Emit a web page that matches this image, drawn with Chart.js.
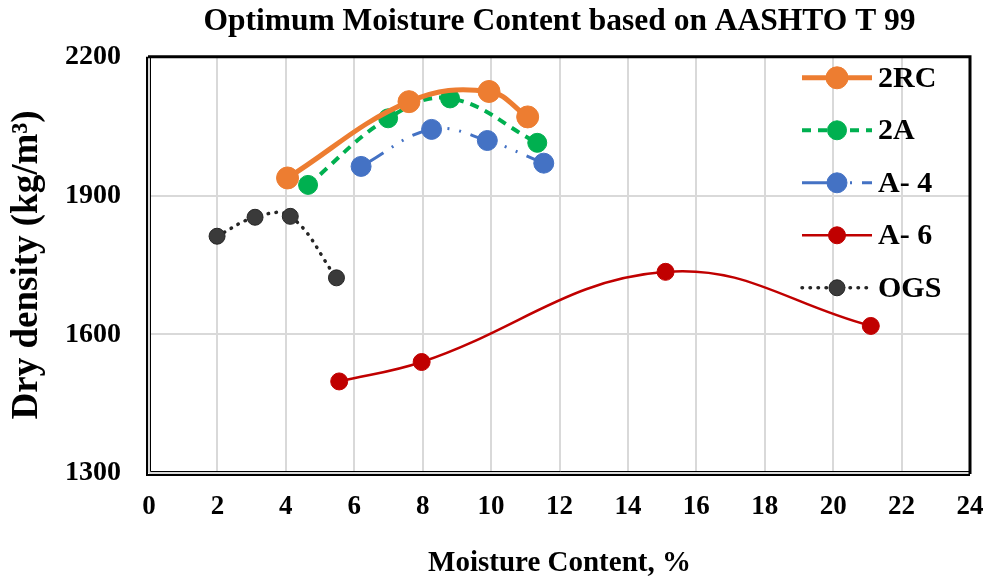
<!DOCTYPE html>
<html lang="en">
<head>
    <meta charset="UTF-8">
    <title>Optimum Moisture Content</title>
    <style>
        body {
            margin: 0;
            background-color: #fff;
        }
        .chart-box {
            width: 989px;
            height: 578px;
        }
    </style>
    <script src="https://cdn.jsdelivr.net/npm/chart.js"></script>
</head>
<body>
<div class="chart-box">
    <canvas id="omcChart"></canvas>
</div>

<script>
    // Datos (humedad %, densidad seca kg/m3)
    const humedad2RC = [4.05, 7.6, 9.94, 11.07];
    const densidad2RC = [1938, 2103, 2125, 2070];

    const humedad2A = [4.65, 6.99, 8.8, 11.35];
    const densidad2A = [1923, 2067, 2110, 2014];

    const humedadA4 = [6.2, 8.26, 9.89, 11.54];
    const densidadA4 = [1963, 2043, 2019, 1970];

    const humedadA6 = [5.56, 7.97, 15.1, 21.1];
    const densidadA6 = [1498, 1540, 1735, 1618];

    const humedadOGS = [1.99, 3.1, 4.13, 5.48];
    const densidadOGS = [1812, 1853, 1855, 1722];

    const seriesNombres = ['2RC', '2A', 'A- 4', 'A- 6', 'OGS'];

    const serif = '"Liberation Serif", "Times New Roman", serif';

    function puntos(xs, ys) {
        return xs.map((x, i) => ({ x: x, y: ys[i] }));
    }

    const datasets = [
        {
            label: seriesNombres[0],
            data: puntos(humedad2RC, densidad2RC),
            borderColor: '#ED7D31',
            backgroundColor: '#ED7D31',
            borderWidth: 5,
            pointRadius: 11,
            borderDash: []
        },
        {
            label: seriesNombres[1],
            data: puntos(humedad2A, densidad2A),
            borderColor: '#00B050',
            backgroundColor: '#00B050',
            borderWidth: 4,
            pointRadius: 9.5,
            borderDash: [9, 7]
        },
        {
            label: seriesNombres[2],
            data: puntos(humedadA4, densidadA4),
            borderColor: '#4472C4',
            backgroundColor: '#4472C4',
            borderWidth: 3,
            pointRadius: 10,
            borderDash: [26, 10, 2, 10, 2, 10]
        },
        {
            label: seriesNombres[3],
            data: puntos(humedadA6, densidadA6),
            borderColor: '#C00000',
            backgroundColor: '#C00000',
            borderWidth: 2.5,
            pointRadius: 8.5,
            borderDash: []
        },
        {
            label: seriesNombres[4],
            data: puntos(humedadOGS, densidadOGS),
            borderColor: '#262626',
            backgroundColor: '#3a3a3a',
            pointBorderColor: '#262626',
            borderWidth: 3.5,
            pointRadius: 8,
            borderDash: [0.5, 7.5],
            borderCapStyle: 'round'
        }
    ];

    datasets.forEach(ds => {
        ds.showLine = true;
        ds.tension = 0.4;
        ds.fill = false;
        ds.pointBorderWidth = 1;
        ds.pointHoverRadius = ds.pointRadius;
        if (!ds.pointBorderColor) ds.pointBorderColor = ds.borderColor;
    });

    // Marco del area del grafico (doble linea a la izquierda y abajo)
    const marcoPlugin = {
        id: 'marco',
        afterDatasetsDraw(chart) {
            const { ctx, chartArea: a } = chart;
            ctx.save();
            ctx.strokeStyle = '#000';
            ctx.lineWidth = 3;
            ctx.beginPath();
            ctx.moveTo(a.left - 1, a.top);
            ctx.lineTo(a.right, a.top);
            ctx.lineTo(a.right, a.bottom + 1);
            ctx.stroke();
            ctx.lineWidth = 2;
            ctx.beginPath();
            ctx.moveTo(a.left - 2, a.top);
            ctx.lineTo(a.left - 2, a.bottom + 2);
            ctx.lineTo(a.right, a.bottom + 2);
            ctx.stroke();
            ctx.lineWidth = 1;
            ctx.beginPath();
            ctx.moveTo(a.left + 1.5, a.top);
            ctx.lineTo(a.left + 1.5, a.bottom - 1.5);
            ctx.lineTo(a.right, a.bottom - 1.5);
            ctx.stroke();
            ctx.restore();
        }
    };

    // Leyenda con muestra de linea + marcador, como en Excel
    const leyendaPlugin = {
        id: 'leyenda',
        afterDatasetsDraw(chart) {
            const { ctx, chartArea: a } = chart;
            const x0 = a.right - 168;
            const x1 = a.right - 98;
            const xm = (x0 + x1) / 2;
            ctx.save();
            chart.data.datasets.forEach((ds, i) => {
                const y = a.top + 21 + i * 52.5;
                ctx.strokeStyle = ds.borderColor;
                ctx.lineWidth = ds.borderWidth;
                ctx.lineCap = ds.borderCapStyle || 'butt';
                ctx.setLineDash(ds.borderDash || []);
                ctx.beginPath();
                ctx.moveTo(x0, y);
                ctx.lineTo(x1, y);
                ctx.stroke();
                ctx.setLineDash([]);
                ctx.fillStyle = ds.backgroundColor;
                ctx.strokeStyle = ds.pointBorderColor;
                ctx.lineWidth = 1;
                ctx.beginPath();
                ctx.arc(xm, y, ds.pointRadius, 0, Math.PI * 2);
                ctx.fill();
                ctx.stroke();
                ctx.fillStyle = '#000';
                ctx.font = 'bold 30px ' + serif;
                ctx.textAlign = 'left';
                ctx.textBaseline = 'middle';
                ctx.fillText(ds.label, x1 + 6, y + 1);
            });
            ctx.restore();
        }
    };

    const config = {
        type: 'scatter',
        data: { datasets: datasets },
        options: {
            responsive: false,
            animation: false,
            layout: {
                padding: { top: 0, right: 19, bottom: 0, left: 0 }
            },
            plugins: {
                legend: { display: false },
                tooltip: { enabled: false },
                title: {
                    display: true,
                    fullSize: false,
                    text: 'Optimum Moisture Content based on AASHTO T 99',
                    color: '#000',
                    font: { family: serif, size: 31.5, weight: 'bold' },
                    padding: { top: 3, bottom: 16 }
                }
            },
            scales: {
                x: {
                    type: 'linear',
                    min: 0,
                    max: 24,
                    ticks: {
                        stepSize: 2,
                        color: '#000',
                        padding: 18,
                        font: { family: serif, size: 27, weight: 'bold' }
                    },
                    grid: { color: '#d9d9d9', lineWidth: 2, drawTicks: false },
                    border: { display: false },
                    title: {
                        display: true,
                        text: 'Moisture Content, %',
                        color: '#000',
                        font: { family: serif, size: 29, weight: 'bold', lineHeight: 1 },
                        padding: { top: 0, bottom: 0 }
                    },
                    afterFit(scale) {
                        scale.height = 105;
                        scale.paddingRight = 0;
                    }
                },
                y: {
                    type: 'linear',
                    min: 1300,
                    max: 2200,
                    ticks: {
                        stepSize: 300,
                        color: '#000',
                        padding: 28,
                        font: { family: serif, size: 28, weight: 'bold' },
                        callback: value => String(value)
                    },
                    grid: { color: '#d9d9d9', lineWidth: 2, drawTicks: false },
                    border: { display: false },
                    title: {
                        display: true,
                        text: 'Dry density (kg/m³)',
                        color: '#000',
                        font: { family: serif, size: 37, weight: 'bold' },
                        padding: { top: 5, bottom: 5 }
                    },
                    afterFit(scale) { scale.width = 149; }
                }
            }
        },
        plugins: [marcoPlugin, leyendaPlugin]
    };

    const ctx = document.getElementById('omcChart').getContext('2d');
    const canvas = document.getElementById('omcChart');
    canvas.width = 989;
    canvas.height = 578;
    new Chart(ctx, config);
</script>
</body>
</html>
